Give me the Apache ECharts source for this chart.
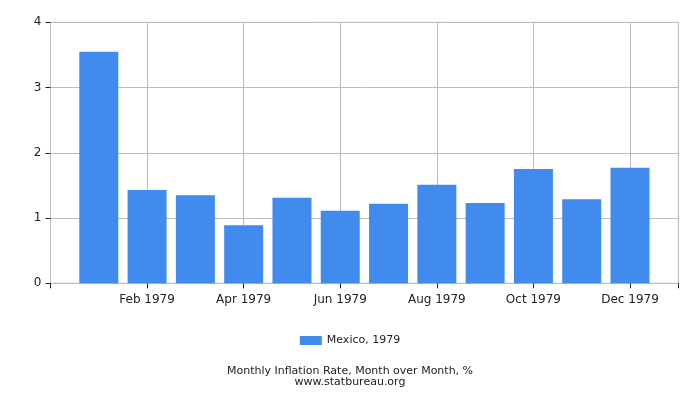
<!DOCTYPE html>
<html>
<head>
<meta charset="utf-8">
<script src="https://cdn.jsdelivr.net/npm/echarts@6/dist/echarts.min.js"></script>
<style>
html,body{margin:0;padding:0;background:#fff;}
#chart{width:700px;height:400px;}
</style>
</head>
<body>
<div id="chart"></div>
<script>
var months = ['Jan 1979','Feb 1979','Mar 1979','Apr 1979','May 1979','Jun 1979','Jul 1979','Aug 1979','Sep 1979','Oct 1979','Nov 1979','Dec 1979'];
var monthIndex = [1,2,3,4,5,6,7,8,9,10,11,12];
var mexico1979 = [3.55,1.43,1.35,0.89,1.31,1.11,1.22,1.51,1.23,1.75,1.29,1.77];
var yTicks = [0,1,2,3,4];

var seriesData = monthIndex.map(function(m,i){ return [m, mexico1979[i]]; });

var chart = echarts.init(document.getElementById('chart'), null, {renderer:'canvas'});
var font = 'DejaVu Sans';
chart.setOption({
  animation:false,
  textStyle:{fontFamily:font},
  grid:{left:50.5, right:21.7, top:22.3, bottom:116.7, show:true, borderColor:'#c8c8c8', borderWidth:1},
  xAxis:{
    type:'value', min:0, max:13, interval:2,
    axisLine:{show:true, lineStyle:{color:'#bbbbbb'}},
    axisTick:{show:true, length:5, lineStyle:{color:'#222'}},
    splitLine:{show:true, lineStyle:{color:'#bdbdbd'}},
    axisLabel:{
      fontFamily:font, fontSize:12, color:'#222', margin:11,
      formatter:function(v){ var i = Math.round(v)-1; return (v===Math.round(v) && i>=0 && i<months.length) ? months[i] : ''; }
    }
  },
  yAxis:{
    type:'value', min:yTicks[0], max:yTicks[yTicks.length-1], interval:1,
    axisLine:{show:true, lineStyle:{color:'#bbbbbb'}},
    axisTick:{show:true, length:5, lineStyle:{color:'#222'}},
    splitLine:{show:true, lineStyle:{color:'#bdbdbd'}},
    axisLabel:{fontFamily:font, fontSize:12, color:'#222', margin:9}
  },
  legend:{
    show:true, top:330, left:'center',
    itemWidth:22, itemHeight:9, itemGap:10,
    textStyle:{fontFamily:font, fontSize:11, color:'#222'},
    data:[{name:'Mexico, 1979', icon:'rect'}]
  },
  title:[
    {text:'Monthly Inflation Rate, Month over Month, %', left:'center', top:361,
     textStyle:{fontFamily:font, fontSize:11, fontWeight:'normal', color:'#222'}},
    {text:'www.statbureau.org', left:'center', top:372,
     textStyle:{fontFamily:font, fontSize:11, fontWeight:'normal', color:'#222'}}
  ],
  series:[{
    name:'Mexico, 1979', type:'bar', barWidth:39,
    itemStyle:{color:'#418bee'},
    data:seriesData
  }]
});
</script>
</body>
</html>
